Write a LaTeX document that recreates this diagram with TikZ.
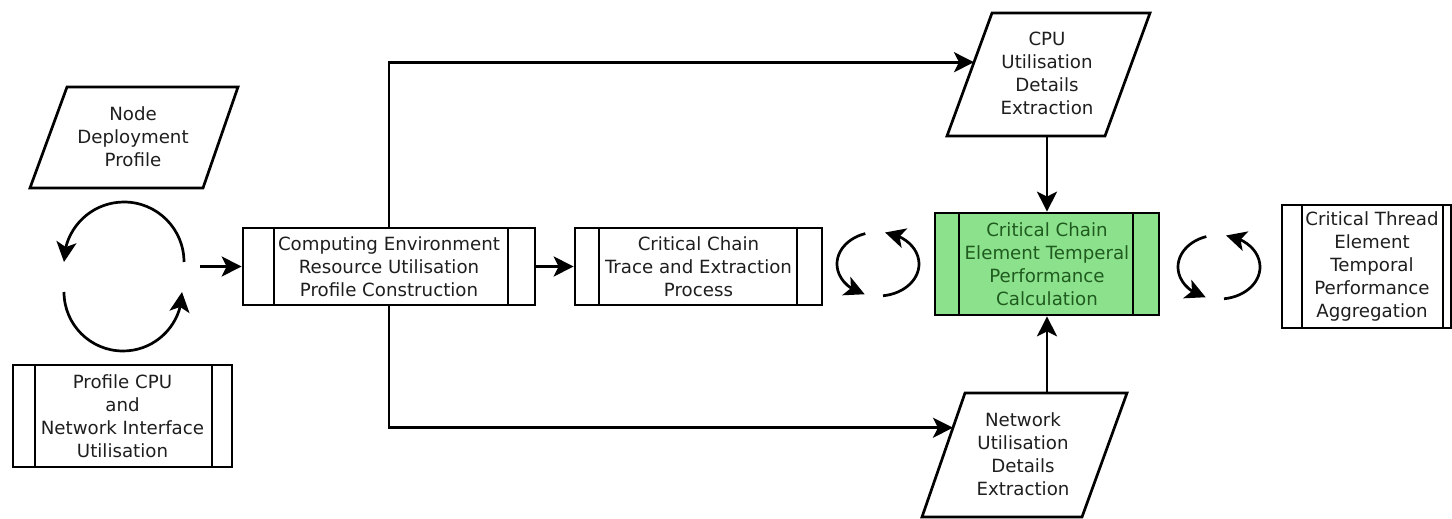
\documentclass[tikz,border=0pt]{standalone}
\usepackage{fontspec}
\setmainfont{DejaVu Sans}
\usetikzlibrary{arrows.meta,calc,bending}

\definecolor{txt}{HTML}{1E1E1E}
\definecolor{calcfill}{HTML}{8CE28C}
\definecolor{calctxt}{HTML}{1F5A1F}

\tikzset{
  lbl/.style={align=center, text=txt, inner sep=0pt,
    font=\fontsize{18.2}{23}\selectfont},
  ln/.style={line width=2.7pt, line join=miter},
  arr/.style={ln, -{Stealth[length=20pt,width=20pt,inset=5pt]}},
  % process box with two inner vertical bars
  predef/.style n args={4}{lbl, draw, ln, minimum width=#1, minimum height=#2,
    path picture={
      \draw[ln] ([xshift=#3]path picture bounding box.north west)
             -- ([xshift=#3]path picture bounding box.south west);
      \draw[ln] ([xshift=-#4]path picture bounding box.north east)
             -- ([xshift=-#4]path picture bounding box.south east);
    }},
}

\begin{document}
\begin{tikzpicture}[x=1pt,y=-1pt]
\useasboundingbox (0,0) rectangle (1452,519);

% ---------- data parallelograms ----------
\coordinate (ndp-tl) at (67,87);   \coordinate (ndp-tr) at (238,87);
\coordinate (ndp-br) at (203,188); \coordinate (ndp-bl) at (30,188);
\draw[ln] (ndp-tl) -- (ndp-tr) -- (ndp-br) -- (ndp-bl) -- cycle;
\node[lbl] (ndp) at (133,137) {Node\\Deployment\\Profile};

\coordinate (cpu-tl) at (992,13);   \coordinate (cpu-tr) at (1150,13);
\coordinate (cpu-br) at (1105,136); \coordinate (cpu-bl) at (947,136);
\draw[ln] (cpu-tl) -- (cpu-tr) -- (cpu-br) -- (cpu-bl) -- cycle;
\node[lbl] (cpu) at (1047,73) {CPU\\Utilisation\\Details\\Extraction};

\coordinate (net-tl) at (965,393);  \coordinate (net-tr) at (1127,393);
\coordinate (net-br) at (1082,517); \coordinate (net-bl) at (922,517);
\draw[ln] (net-tl) -- (net-tr) -- (net-br) -- (net-bl) -- cycle;
\node[lbl] (net) at (1023,454) {Network\\Utilisation\\Details\\Extraction};

% ---------- process boxes ----------
\node[predef={219pt}{102pt}{22pt}{20pt}] (prof) at (122.5,416)
  {Profile CPU\\and\\Network Interface\\Utilisation};
\node[predef={292pt}{77pt}{31pt}{27pt}] (comp) at (389,266.5)
  {Computing Environment\\Resource Utilisation\\Profile Construction};
\node[predef={247pt}{77pt}{24pt}{25pt}] (chain) at (698.5,266.5)
  {Critical Chain\\Trace and Extraction\\Process};
\node[predef={224pt}{102pt}{24pt}{26pt}, fill=calcfill, text=calctxt] (calc) at (1047,264)
  {Critical Chain\\Element Temperal\\Performance\\Calculation};
\node[predef={169pt}{123pt}{20pt}{8pt}] (thread) at (1366.5,266.5) {};
\node[lbl] (thread-txt) at ([xshift=5.5pt]thread.center)
  {Critical Thread\\Element\\Temporal\\Performance\\Aggregation};

% ---------- cycle symbols ----------
\coordinate (cycA) at (124,262);
\coordinate (cycB) at (123,292);
\draw[arr] ($(cycA)+(60pt,0)$) arc[start angle=0, end angle=180, radius=60pt];
\draw[arr] ($(cycB)+(-59pt,0)$) arc[start angle=180, end angle=360, radius=59pt];

\coordinate (cycM) at (878,264);
\draw[arr] ($(cycM)+(108:41pt and 32pt)$) arc[start angle=108, end angle=251, x radius=41pt, y radius=32pt];
\draw[arr] ($(cycM)+(-83:41pt and 32pt)$) arc[start angle=-83, end angle=80, x radius=41pt, y radius=32pt];

\coordinate (cycR) at (1219,267);
\draw[arr] ($(cycR)+(108:41pt and 32pt)$) arc[start angle=108, end angle=251, x radius=41pt, y radius=32pt];
\draw[arr] ($(cycR)+(-83:41pt and 32pt)$) arc[start angle=-83, end angle=80, x radius=41pt, y radius=32pt];

% ---------- connectors ----------
\coordinate (cycout) at (200,266.5);
\draw[arr] (cycout) -- (comp.west);
\draw[arr] (comp.east) -- (chain.west);

\coordinate (cpu-in) at ($(cpu-bl)!0.6!(cpu-tl)$);
\coordinate (net-in) at ($(net-bl)!0.72!(net-tl)$);
\draw[arr] (comp.north) |- (cpu-in);
\draw[arr] (comp.south) |- (net-in);

\draw[arr] (calc.north |- cpu-bl) -- (calc.north);
\draw[arr] (calc.south |- net-tl) -- (calc.south);
\end{tikzpicture}
\end{document}
